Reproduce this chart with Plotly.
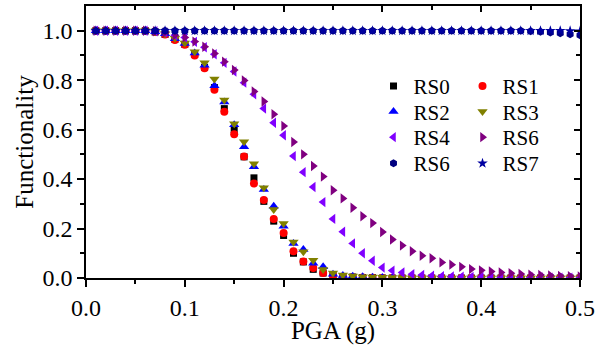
import plotly.graph_objects as go

pga = [0.01, 0.02, 0.03, 0.04, 0.05, 0.06, 0.07, 0.08, 0.09, 0.10,
       0.11, 0.12, 0.13, 0.14, 0.15, 0.16, 0.17, 0.18, 0.19, 0.20,
       0.21, 0.22, 0.23, 0.24, 0.25, 0.26, 0.27, 0.28, 0.29, 0.30,
       0.31, 0.32, 0.33, 0.34, 0.35, 0.36, 0.37, 0.38, 0.39, 0.40,
       0.41, 0.42, 0.43, 0.44, 0.45, 0.46, 0.47, 0.48, 0.49, 0.50]

rs0 = [1.0, 1.0, 1.0, 1.0, 1.0, 1.0, 0.995, 0.985, 0.965, 0.945,
       0.905, 0.852, 0.770, 0.685, 0.600, 0.490, 0.405, 0.310, 0.230, 0.172,
       0.100, 0.065, 0.035, 0.020, 0.010, 0.006, 0.004, 0.002, 0.001, 0.0,
       0.0, 0.0, 0.0, 0.0, 0.0, 0.0, 0.0, 0.0, 0.0, 0.0,
       0.0, 0.0, 0.0, 0.0, 0.0, 0.0, 0.0, 0.0, 0.0, 0.0]
rs1 = [1.0, 1.0, 1.0, 1.0, 1.0, 1.0, 0.995, 0.985, 0.963, 0.943,
       0.900, 0.848, 0.761, 0.672, 0.581, 0.491, 0.382, 0.315, 0.239, 0.182,
       0.108, 0.067, 0.040, 0.020, 0.010, 0.005, 0.003, 0.002, 0.001, 0.0,
       0.0, 0.0, 0.0, 0.0, 0.0, 0.0, 0.0, 0.0, 0.0, 0.0,
       0.0, 0.0, 0.0, 0.0, 0.0, 0.0, 0.0, 0.0, 0.0, 0.0]
rs2 = [1.0, 1.0, 1.0, 1.0, 1.0, 1.0, 0.996, 0.988, 0.968, 0.948,
       0.910, 0.860, 0.777, 0.712, 0.620, 0.531, 0.450, 0.358, 0.290, 0.209,
       0.140, 0.115, 0.060, 0.045, 0.015, 0.010, 0.007, 0.005, 0.003, 0.002,
       0.001, 0.0, 0.0, 0.0, 0.0, 0.0, 0.0, 0.0, 0.0, 0.0,
       0.0, 0.0, 0.0, 0.0, 0.0, 0.0, 0.0, 0.0, 0.0, 0.0]
rs3 = [1.0, 1.0, 1.0, 1.0, 1.0, 1.0, 0.996, 0.988, 0.970, 0.950,
       0.915, 0.870, 0.805, 0.720, 0.624, 0.551, 0.462, 0.365, 0.277, 0.220,
       0.146, 0.106, 0.072, 0.034, 0.020, 0.012, 0.008, 0.005, 0.004, 0.003,
       0.002, 0.001, 0.0, 0.0, 0.0, 0.0, 0.0, 0.0, 0.0, 0.0,
       0.0, 0.0, 0.0, 0.0, 0.0, 0.0, 0.0, 0.0, 0.0, 0.0]
rs4 = [1.0, 1.0, 1.0, 1.0, 1.0, 1.0, 0.998, 0.993, 0.982, 0.973,
       0.955, 0.933, 0.905, 0.870, 0.835, 0.790, 0.743, 0.685, 0.628, 0.577,
       0.493, 0.428, 0.368, 0.307, 0.239, 0.187, 0.140, 0.100, 0.070, 0.042,
       0.030, 0.022, 0.015, 0.012, 0.009, 0.007, 0.006, 0.005, 0.004, 0.004,
       0.003, 0.003, 0.002, 0.002, 0.002, 0.002, 0.001, 0.001, 0.001, 0.001]
rs6a = [1.0, 1.0, 1.0, 1.0, 1.0, 1.0, 0.998, 0.993, 0.982, 0.973,
        0.956, 0.935, 0.908, 0.875, 0.841, 0.799, 0.754, 0.714, 0.662, 0.615,
        0.550, 0.500, 0.453, 0.410, 0.355, 0.322, 0.284, 0.250, 0.222, 0.186,
        0.156, 0.131, 0.108, 0.090, 0.080, 0.063, 0.054, 0.045, 0.036, 0.031,
        0.026, 0.022, 0.019, 0.016, 0.013, 0.012, 0.010, 0.008, 0.007, 0.006]
rs6b = [1.0, 1.0, 1.0, 1.0, 1.0, 1.0, 1.0, 1.0, 1.0, 1.0,
        1.0, 1.0, 1.0, 1.0, 1.0, 1.0, 1.0, 1.0, 1.0, 1.0,
        1.0, 1.0, 1.0, 1.0, 1.0, 1.0, 1.0, 1.0, 1.0, 1.0,
        1.0, 1.0, 1.0, 1.0, 1.0, 1.0, 1.0, 1.0, 1.0, 1.0,
        1.0, 1.0, 1.0, 1.0, 0.998, 0.996, 0.993, 0.990, 0.986, 0.982]
rs7 = [1.0, 1.0, 1.0, 1.0, 1.0, 1.0, 1.0, 1.0, 1.0, 1.0,
       1.0, 1.0, 1.0, 1.0, 1.0, 1.0, 1.0, 1.0, 1.0, 1.0,
       1.0, 1.0, 1.0, 1.0, 1.0, 1.0, 1.0, 1.0, 1.0, 1.0,
       1.0, 1.0, 1.0, 1.0, 1.0, 1.0, 1.0, 1.0, 1.0, 1.0,
       1.0, 1.0, 1.0, 1.0, 1.0, 1.0, 1.0, 1.0, 0.999, 0.998]

# name, values, symbol, colour, size, legend (one legend per row of the 2-column key)
series = [
    ("RS0", rs0, "square", "#000000", 7, "legend"),
    ("RS1", rs1, "circle", "#FF0000", 8, "legend"),
    ("RS2", rs2, "triangle-up", "#0000FF", 9, "legend2"),
    ("RS3", rs3, "triangle-down", "#808000", 9, "legend2"),
    ("RS4", rs4, "triangle-left", "#8000FF", 9, "legend3"),
    ("RS6", rs6a, "triangle-right", "#800080", 9, "legend3"),
    ("RS6", rs6b, "hexagon", "#000080", 8, "legend4"),
    ("RS7", rs7, "star", "#0000A0", 8, "legend4"),
]

FONT = "'Liberation Serif', 'Times New Roman', Times, serif"
fig = go.Figure()
for name, vals, sym, col, sz, lg in series:
    fig.add_trace(go.Scatter(
        x=pga, y=vals, mode="markers", name=name, legend=lg,
        marker=dict(symbol=sym, color=col, size=sz, line=dict(width=0)),
    ))

# helper trace for the mirrored top/right axes (no visible points)
fig.add_trace(go.Scatter(x=[None], y=[None], xaxis="x2", yaxis="y2",
                         showlegend=False, hoverinfo="skip"))

xr = [0, 0.5]
yr = [0, 1.1]
tick_common = dict(showgrid=False, zeroline=False, showline=True, linecolor="black",
                   linewidth=1.6, tickwidth=1.6, tickcolor="black")
leg_common = dict(orientation="h", xanchor="left", yanchor="top", bgcolor="rgba(0,0,0,0)",
                  font=dict(family=FONT, size=21), entrywidth=44, itemwidth=30)
fig.update_layout(
    width=601, height=345,
    margin=dict(l=86, r=15, t=6, b=67),
    paper_bgcolor="white", plot_bgcolor="white",
    font=dict(family=FONT, size=24, color="black"),
    xaxis=dict(range=xr, dtick=0.1, tickformat=".1f", ticks="outside", ticklen=7,
               minor=dict(dtick=0.05, ticks="outside", ticklen=4, tickwidth=1.6, tickcolor="black"),
               title=dict(text="PGA (g)", standoff=1, font=dict(size=25)), **tick_common),
    yaxis=dict(range=yr, tickvals=[0, 0.2, 0.4, 0.6, 0.8, 1.0], tickformat=".1f",
               ticks="outside", ticklen=7,
               minor=dict(tickvals=[0.1, 0.3, 0.5, 0.7, 0.9], ticks="outside", ticklen=4,
                          tickwidth=1.6, tickcolor="black"),
               title=dict(text="Functionality", standoff=2, font=dict(size=25)), **tick_common),
    xaxis2=dict(range=xr, overlaying="x", side="top", dtick=0.1, showticklabels=False,
                ticks="inside", ticklen=6,
                minor=dict(dtick=0.05, ticks="inside", ticklen=4, tickwidth=1.6, tickcolor="black"),
                **tick_common),
    yaxis2=dict(range=yr, overlaying="y", side="right", tickvals=[0, 0.2, 0.4, 0.6, 0.8, 1.0],
                showticklabels=False, ticks="inside", ticklen=6,
                minor=dict(tickvals=[0.1, 0.3, 0.5, 0.7, 0.9], ticks="inside", ticklen=4,
                           tickwidth=1.6, tickcolor="black"),
                **tick_common),
    legend=dict(x=0.582, y=0.780, **leg_common),
    legend2=dict(x=0.582, y=0.686, **leg_common),
    legend3=dict(x=0.582, y=0.592, **leg_common),
    legend4=dict(x=0.582, y=0.496, **leg_common),
)

fig.write_html("out.html")
